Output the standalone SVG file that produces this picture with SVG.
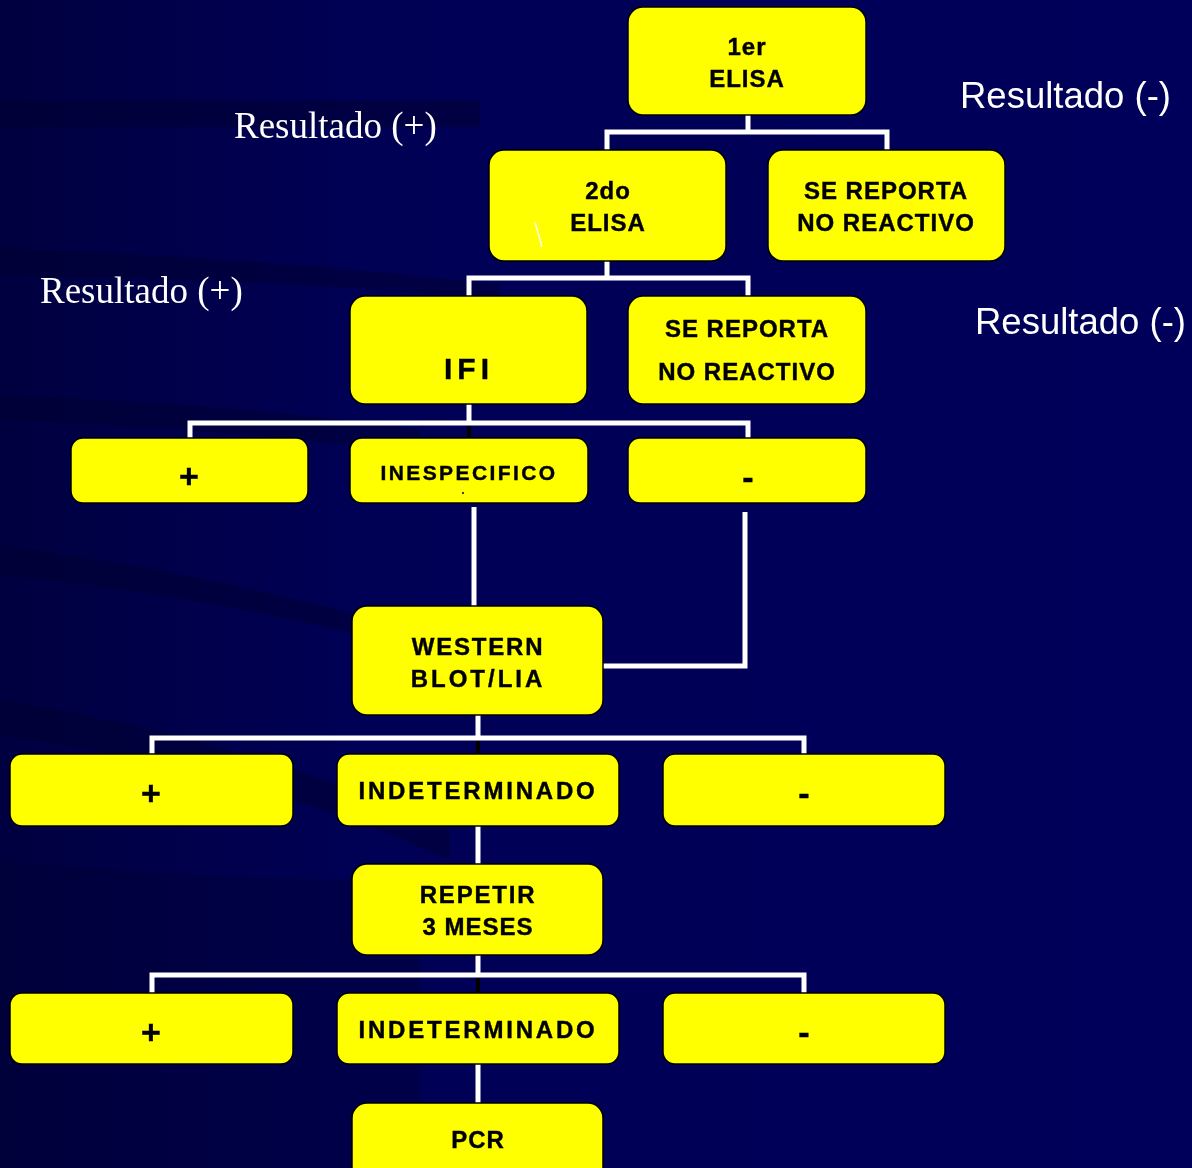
<svg xmlns="http://www.w3.org/2000/svg" width="1192" height="1168" viewBox="0 0 1192 1168">
<defs>
<linearGradient id="bg" x1="0" y1="0" x2="1" y2="0">
<stop offset="0" stop-color="#000040"/>
<stop offset="0.3" stop-color="#000055"/>
<stop offset="1" stop-color="#00005a"/>
</linearGradient>
<style>
.box{fill:#ffff00;stroke:#000;stroke-width:1.5}
.t{font-family:"Liberation Sans",Arial,sans-serif;font-weight:bold;font-size:24px;fill:#000;stroke:#000;stroke-width:0.4;text-anchor:middle;letter-spacing:1px}
.pm{font-size:34px;letter-spacing:0}
.c{fill:none;stroke:#fff;stroke-width:5}
.k{fill:none;stroke:#000;stroke-width:4}
.ser{font-family:"Liberation Serif","Times New Roman",serif;font-size:37px;fill:#fff}
.san{font-family:"Liberation Sans",Arial,sans-serif;font-size:36.5px;fill:#fff}
</style>
</defs>
<rect width="1192" height="1168" fill="url(#bg)"/>
<g id="waves" fill="#000030" opacity="0.5">
<path d="M0 100 L480 100 L480 127 L0 127 Z"/>
<path d="M0 248 Q300 260 500 285 L500 300 Q300 280 0 275 Z"/>
<path d="M0 395 Q250 405 420 430 L420 455 Q250 430 0 420 Z"/>
<path d="M0 545 Q250 580 450 640 L450 660 Q250 600 0 575 Z"/>
<path d="M0 700 Q250 740 450 830 L450 860 Q250 770 0 735 Z"/>
<path d="M0 860 Q200 880 420 880 L420 1168 L0 1168 Z" opacity="0.6"/>
</g>
<g id="connectors">
<polyline class="c" points="748,115 748,132"/>
<polyline class="c" points="607,150 607,132 887,132 887,150"/>
<polyline class="c" points="607,261 607,278"/>
<polyline class="c" points="469,296 469,278 748,278 748,296"/>
<polyline class="c" points="469,404 469,423"/>
<polyline class="c" points="190,438 190,423 748,423 748,438"/>
<line class="k" x1="469" y1="426" x2="469" y2="438"/>
<polyline class="c" points="474,507 474,606"/>
<polyline class="c" points="745,512 745,666 596,666"/>
<polyline class="c" points="478,715 478,738"/>
<polyline class="c" points="152,754 152,738 804,738 804,754"/>
<line class="k" x1="478" y1="741" x2="478" y2="754"/>
<polyline class="c" points="478,826 478,864"/>
<polyline class="c" points="478,955 478,975"/>
<polyline class="c" points="152,993 152,975 804,975 804,993"/>
<line class="k" x1="478" y1="978" x2="478" y2="993"/>
<polyline class="c" points="478,1064 478,1103"/>
</g>
<g id="n1"><rect class="box" x="628" y="7" width="238" height="108" rx="15"/><text class="t" x="747" y="55">1er</text><text class="t" x="747" y="87">ELISA</text></g>
<g id="n2"><rect class="box" x="489" y="150" width="237" height="111" rx="15"/><text class="t" x="608" y="199">2do</text><text class="t" x="608" y="231">ELISA</text><line x1="535" y1="222" x2="542" y2="247" stroke="#fff" stroke-width="1.5"/></g>
<g id="n3"><rect class="box" x="768" y="150" width="237" height="111" rx="15"/><text class="t" x="886" y="199">SE REPORTA</text><text class="t" x="886" y="231">NO REACTIVO</text></g>
<g id="n4"><rect class="box" x="350" y="296" width="237" height="108" rx="15"/><text class="t" x="469" y="379" style="font-size:30px;letter-spacing:5px">IFI</text></g>
<g id="n5"><rect class="box" x="628" y="296" width="238" height="108" rx="15"/><text class="t" x="747" y="337">SE REPORTA</text><text class="t" x="747" y="380">NO REACTIVO</text></g>
<g id="n6"><rect class="box" x="71" y="438" width="237" height="65" rx="12"/><text class="t pm" x="189" y="488">+</text></g>
<g id="n7"><rect class="box" x="350" y="438" width="238" height="65" rx="12"/><text class="t" x="469" y="480" style="font-size:21px;letter-spacing:2.4px">INESPECIFICO</text><circle cx="463" cy="493" r="1" fill="#000"/></g>
<g id="n8"><rect class="box" x="628" y="438" width="238" height="65" rx="12"/><text class="t pm" x="748" y="489">-</text></g>
<g id="n9"><rect class="box" x="352" y="606" width="251" height="109" rx="15"/><text class="t" x="478" y="655" style="letter-spacing:1.8px">WESTERN</text><text class="t" x="478" y="687" style="letter-spacing:3px">BLOT/LIA</text></g>
<g id="n10"><rect class="box" x="10" y="754" width="283" height="72" rx="12"/><text class="t pm" x="151" y="805">+</text></g>
<g id="n11"><rect class="box" x="337" y="754" width="282" height="72" rx="12"/><text class="t" x="478" y="799" style="letter-spacing:2.8px">INDETERMINADO</text></g>
<g id="n12"><rect class="box" x="663" y="754" width="282" height="72" rx="12"/><text class="t pm" x="804" y="805">-</text></g>
<g id="n13"><rect class="box" x="352" y="864" width="251" height="91" rx="15"/><text class="t" x="478" y="903" style="letter-spacing:1.8px">REPETIR</text><text class="t" x="478" y="935">3 MESES</text></g>
<g id="n14"><rect class="box" x="10" y="993" width="283" height="71" rx="12"/><text class="t pm" x="151" y="1044">+</text></g>
<g id="n15"><rect class="box" x="337" y="993" width="282" height="71" rx="12"/><text class="t" x="478" y="1038" style="letter-spacing:2.8px">INDETERMINADO</text></g>
<g id="n16"><rect class="box" x="663" y="993" width="282" height="71" rx="12"/><text class="t pm" x="804" y="1044">-</text></g>
<g id="n17"><rect class="box" x="352" y="1103" width="251" height="80" rx="15"/><text class="t" x="478" y="1148">PCR</text></g>
<g id="labels">
<text class="ser" x="234" y="138">Resultado (+)</text>
<text class="ser" x="40" y="303">Resultado (+)</text>
<text class="san" x="960" y="108">Resultado (-)</text>
<text class="san" x="975" y="334">Resultado (-)</text>
</g>
</svg>
